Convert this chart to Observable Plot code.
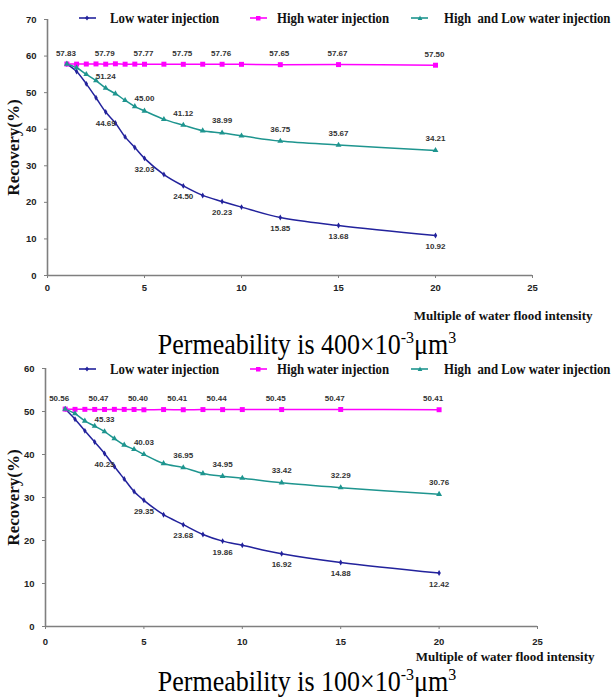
<!DOCTYPE html>
<html><head><meta charset="utf-8">
<script src="https://cdn.jsdelivr.net/npm/d3@7"></script>
<script src="https://cdn.jsdelivr.net/npm/@observablehq/plot@0.6"></script>
<style>
body{margin:0;background:#fff;width:614px;height:700px;overflow:hidden;}
#root{position:relative;width:614px;height:700px;}
.panel{position:absolute;left:0;width:614px;}
.legend{position:absolute;left:0;width:614px;height:20px;font-family:"Liberation Serif",serif;font-weight:bold;font-size:12.8px;color:#111;}
.item{position:absolute;top:0;height:20px;white-space:pre;line-height:20px;transform:scaleY(1.15);transform-origin:center;}
.sw{position:absolute;top:0;}
.caption{position:absolute;left:0;font-family:"Liberation Serif",serif;font-size:26px;text-align:center;width:614px;color:#000;height:34px;line-height:34px;}
.caption span{display:inline-block;transform:scaleY(1.1);transform-origin:center;}
.caption sup{font-size:16px;vertical-align:super;line-height:0;}
svg text{font-weight:bold;}
</style>
</head><body>
<div id="root"></div>
<script>
const multiples = [1,1.5,2,2.5,3,3.5,4,4.5,5,6,7,8,9,10,12,15,20];
const labeledMultiples = [1,3,5,7,9,12,15,20];
const seriesNames = ["Low water injection","High water injection","High  and Low water injection"];
const seriesColors = ["#22229C","#FF00FF","#1E958F"];
const seriesSymbols = ["diamond","square","triangle"];

// Permeability 400
const low400  = [57.83,55.8,52.4,48.6,44.69,41.7,37.9,35.0,32.03,27.6,24.50,21.9,20.23,18.7,15.85,13.68,10.92];
const high400 = [57.83,57.80,57.82,57.85,57.79,57.88,57.78,57.80,57.77,57.78,57.75,57.77,57.76,57.74,57.65,57.67,57.50];
const mix400  = [57.83,56.8,55.0,53.3,51.24,49.7,47.9,46.2,45.00,42.7,41.12,39.6,38.99,38.2,36.75,35.67,34.21];
// Permeability 100
const low100  = [50.56,48.2,45.5,42.9,40.23,37.2,34.3,31.4,29.35,26.0,23.68,21.4,19.86,18.9,16.92,14.88,12.42];
const high100 = [50.56,50.50,50.50,50.48,50.47,50.50,50.48,50.46,50.40,50.45,50.41,50.45,50.44,50.45,50.45,50.47,50.41];
const mix100  = [50.56,49.5,47.8,46.6,45.33,43.7,42.2,41.2,40.03,37.9,36.95,35.6,34.95,34.5,33.42,32.29,30.76];

const xTicks = [0,5,10,15,20,25];
const yTicks400 = [0,10,20,30,40,50,60,70];
const yTicks100 = [0,10,20,30,40,50,60];
const xTitle = "Multiple of water flood intensity";
const yTitle = "Recovery(%)";

function rowsOf(arrays){
  const rows = [];
  arrays.forEach((arr,i)=>arr.forEach((v,j)=>rows.push({series:seriesNames[i], x:multiples[j], y:v})));
  return rows;
}

function legend(top){
  const lg = document.createElement("div");
  lg.className = "legend";
  lg.style.top = top + "px";
  const pos = [[79,110],[250,277],[411,444]];
  const markers = [
    '<polygon points="8,7.5 10,10 8,12.5 6,10" fill="#22229C"/>',
    '<rect x="6" y="8" width="4.5" height="4.5" fill="#FF00FF"/>',
    '<polygon points="9,7.5 11.3,12 6.7,12" fill="#1E958F"/>'
  ];
  seriesNames.forEach((n,i)=>{
    const sw = document.createElement("div");
    sw.className="sw"; sw.style.left = pos[i][0]+"px";
    sw.innerHTML = `<svg width="18" height="20"><line x1="0" x2="17" y1="10" y2="10" stroke="${seriesColors[i]}" stroke-width="1.6"/>${markers[i]}</svg>`;
    lg.appendChild(sw);
    const t = document.createElement("div");
    t.className="item"; t.style.left = pos[i][1]+"px"; t.textContent = n;
    lg.appendChild(t);
  });
  return lg;
}

function chart(cfg){
  const rows = rowsOf(cfg.series);
  const marks = [
    Plot.ruleX([0], {stroke:"#7f7f7f", strokeWidth:1.6}),
    Plot.ruleY([0], {stroke:"#7f7f7f", strokeWidth:1.6}),
    Plot.axisX({ticks:xTicks, tickSize:3, tickPadding:cfg.xPad, fontSize:9.5, fontWeight:"bold", stroke:"#7f7f7f", fill:"#222", label:null}),
    Plot.axisY({ticks:cfg.yTicks, tickSize:3, tickPadding:8, fontSize:9.5, fontWeight:"bold", stroke:"#7f7f7f", fill:"#222", label:null}),
    Plot.line(rows, {x:"x", y:"y", z:"series", stroke:"series", strokeWidth:1.5, curve:"catmull-rom"})
  ];
  const rs = [1.8, 2.8, 2.2];
  seriesNames.forEach((n,i)=>{
    marks.push(Plot.dot(rows.filter(d=>d.series===n), {x:"x", y:"y", symbol:"series", fill:"series", stroke:null, r:rs[i]}));
  });
  const lab = (i, dx, dy, withFirst) => Plot.text(
    rows.filter(d=>d.series===seriesNames[i] && labeledMultiples.includes(d.x) && (withFirst || d.x!==1)),
    {x:"x", y:"y", text:d=>d.y.toFixed(2), dx, dy, fontSize:8, fontWeight:"bold", fill:"#333", fontFamily:"Liberation Sans"});
  marks.push(lab(1, cfg.pinkDx, -11, true));
  marks.push(lab(2, 0, -12, false));
  marks.push(lab(0, 0, 11, false));
  marks.push(Plot.text([xTitle], {frameAnchor:"bottom-right", textAnchor:"end", lineAnchor:"middle", dx:cfg.xtDx, dy:cfg.xtDy, fontFamily:"Liberation Serif", fontSize:13, fontWeight:"bold", fill:"#111"}));
  marks.push(Plot.text([yTitle], {frameAnchor:"left", textAnchor:"middle", lineAnchor:"middle", rotate:-90, dx:cfg.ytDx, fontFamily:"Liberation Serif", fontSize:17, fontWeight:"bold", fill:"#111"}));
  return Plot.plot({
    width:614, height:cfg.height,
    marginTop:cfg.mt, marginBottom:cfg.mb, marginLeft:cfg.ml, marginRight:cfg.mr,
    style:{fontFamily:"Liberation Sans", background:"transparent", overflow:"visible"},
    x:{domain:[0,25]},
    y:{domain:cfg.yDomain},
    color:{domain:seriesNames, range:seriesColors},
    symbol:{domain:seriesNames, range:seriesSymbols},
    marks
  });
}

const root = document.getElementById("root");

function panel(cfg){
  const p = document.createElement("div");
  p.className="panel";
  p.style.top = cfg.top+"px";
  p.appendChild(chart(cfg));
  p.appendChild(legend(cfg.legendTop));
  root.appendChild(p);
  const c = document.createElement("div");
  c.className="caption";
  c.style.top = cfg.capTop+"px";
  c.innerHTML = "<span>"+cfg.caption+"</span>";
  root.appendChild(c);
}

panel({top:0, series:[low400,high400,mix400], yTicks:yTicks400, yDomain:[0,70], height:325, mt:19, mb:50, ml:47, mr:82,
  pinkDx:-1, xPad:6, xtDx:60, xtDy:40, ytDx:-34, legendTop:8, capTop:328,
  caption:'Permeability is 400×10<sup>-3</sup>μm<sup>3</sup>'});
panel({top:355, series:[low100,high100,mix100], yTicks:yTicks100, yDomain:[0,60], height:309, mt:13, mb:38, ml:45, mr:77,
  pinkDx:-6, xPad:9, xtDx:57, xtDy:30, ytDx:-32, legendTop:4, capTop:665,
  caption:'Permeability is 100×10<sup>-3</sup>μm<sup>3</sup>'});
</script>
</body></html>
